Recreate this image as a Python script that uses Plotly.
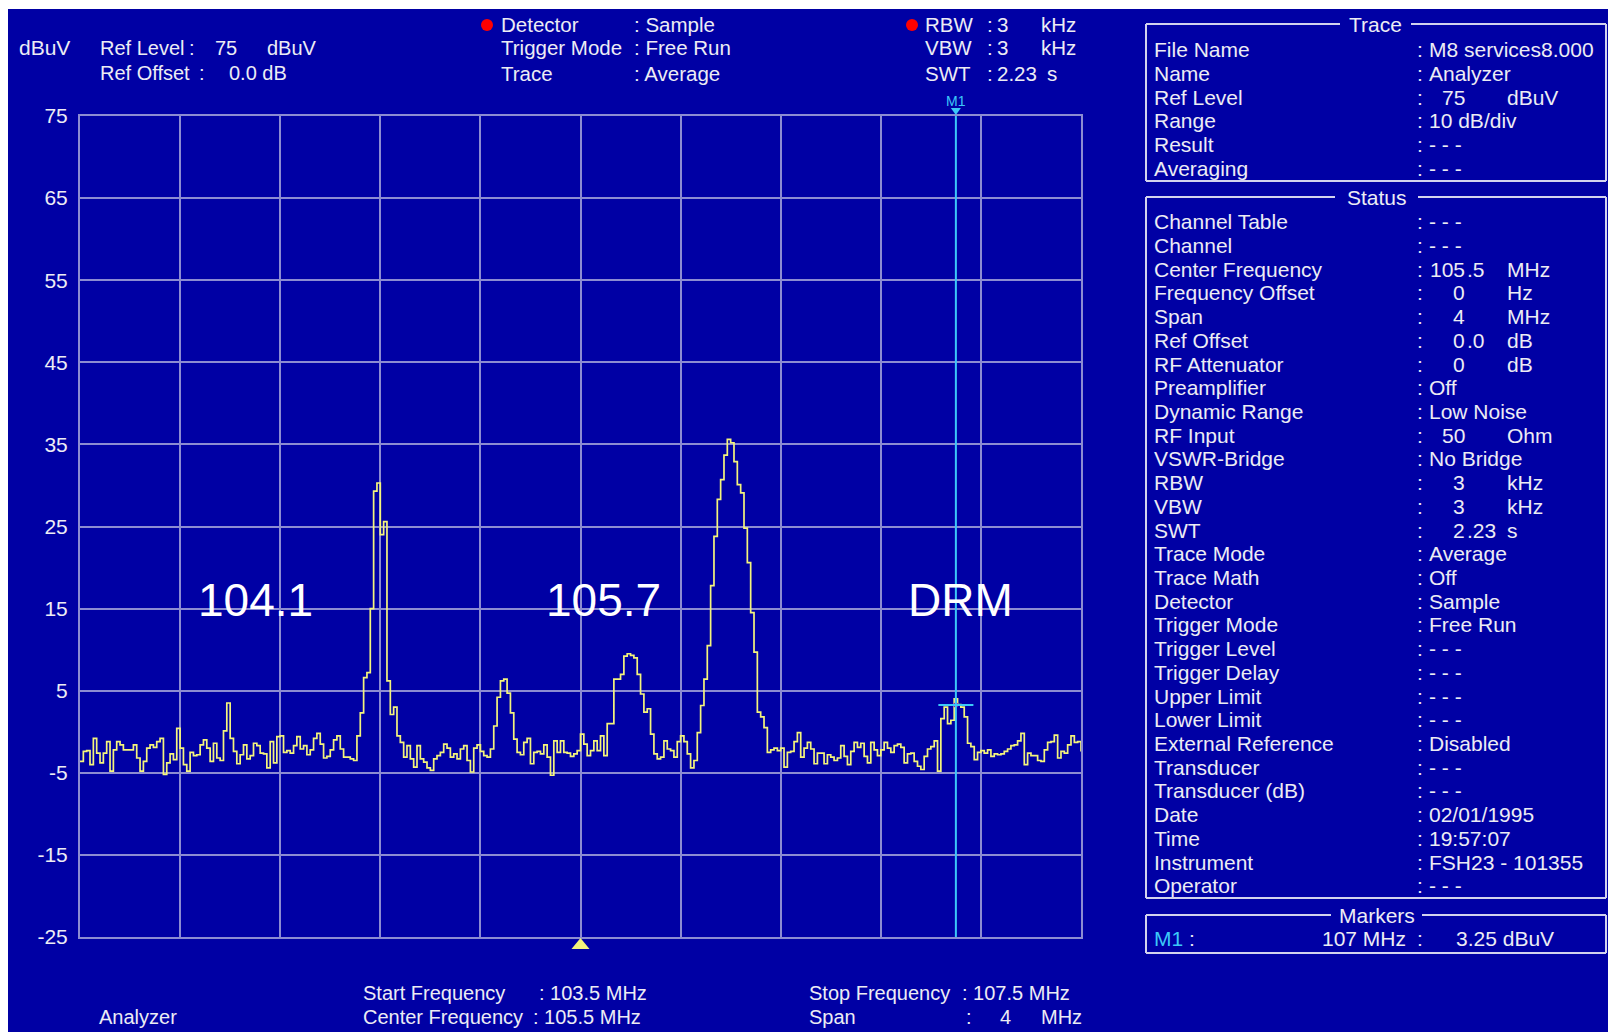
import numpy as np
import plotly.graph_objects as go

# ---------------- sweep settings ----------------
START_FREQ = 103.5   # MHz
STOP_FREQ = 107.5    # MHz
CENTER_FREQ = 105.5  # MHz
REF_LEVEL = 75       # dBuV
BOTTOM_LEVEL = -25   # dBuV (10 dB/div, 10 divisions)

# Averaged trace, 301 sweep points, dBuV
levels = [
    -3.6, -2.4, -2.3, -4.0, -0.8, -2.6, -3.8, -2.6, -1.2, -4.8,
    -2.2, -1.2, -1.6, -2.2, -2.2, -2.2, -1.6, -3.2, -4.8, -3.6,
    -2.0, -1.6, -1.9, -1.2, -0.8, -5.2, -3.8, -2.7, -3.4, 0.4,
    -2.0, -4.0, -4.8, -2.5, -2.9, -2.8, -1.6, -1.0, -2.0, -3.6,
    -1.4, -3.2, -3.5, 0.1, 3.5, -0.8, -2.4, -3.9, -2.8, -1.6,
    -3.3, -2.9, -1.4, -1.7, -2.6, -2.7, -4.4, -1.2, -3.8, -0.6,
    -0.5, -2.5, -2.3, -2.6, -1.7, -0.6, -2.1, -1.7, -2.8, -2.2,
    -0.8, -0.2, -1.5, -3.2, -3.0, -2.2, -1.0, -0.5, -2.1, -3.1,
    -3.1, -3.3, -3.5, -0.5, 2.3, 6.6, 7.2, 15.0, 29.3, 30.3,
    24.0, 25.6, 6.2, 2.1, 3.0, -0.5, -1.3, -3.1, -1.7, -3.3,
    -4.3, -1.7, -3.3, -3.7, -4.4, -4.7, -3.3, -2.9, -2.5, -1.5,
    -2.0, -3.1, -2.7, -3.3, -2.1, -1.7, -3.5, -4.9, -2.0, -1.6,
    -2.4, -2.9, -3.1, -2.1, 0.7, 4.2, 6.2, 6.4, 4.7, 2.3,
    -0.9, -2.5, -2.8, -1.3, -0.8, -3.9, -2.5, -2.4, -2.7, -1.6,
    -3.1, -5.3, -1.1, -2.5, -1.1, -2.5, -2.6, -3.0, -2.7, -2.3,
    -0.3, -1.5, -2.9, -2.3, -1.1, -2.3, -0.5, -2.9, 1.0, 1.0,
    6.4, 6.4, 7.0, 9.2, 9.5, 9.3, 9.0, 7.0, 4.6, 2.4,
    2.8, -0.3, -2.7, -3.3, -3.1, -1.1, -2.1, -2.3, -3.1, -1.2,
    -0.5, -1.2, -2.7, -4.4, -3.5, -0.1, 3.2, 6.4, 10.5, 17.8,
    23.8, 28.3, 30.7, 33.7, 35.6, 35.2, 32.9, 30.1, 29.1, 24.8,
    20.6, 14.5, 9.7, 2.4, 1.8, 0.5, -2.5, -2.2, -2.0, -2.3,
    -2.0, -4.3, -2.5, -2.4, -1.2, -0.1, -3.1, -2.0, -1.3, -2.1,
    -3.9, -2.6, -2.6, -3.9, -2.8, -3.1, -3.5, -3.2, -1.7, -3.0,
    -4.0, -2.4, -1.3, -1.9, -1.4, -3.0, -3.8, -1.3, -2.2, -2.9,
    -2.2, -1.3, -2.0, -2.5, -1.7, -1.5, -1.9, -3.8, -2.7, -2.6,
    -3.6, -4.2, -4.6, -3.0, -2.1, -1.8, -1.1, -4.8, 1.6, 3.0,
    1.0, 1.4, 4.0, 3.3, 3.0, 1.8, -1.4, -1.8, -3.4, -2.5,
    -2.3, -2.6, -2.2, -3.0, -2.7, -2.8, -2.7, -2.4, -2.1, -1.7,
    -1.6, -1.1, -0.2, -4.0, -2.6, -2.9, -2.9, -3.5, -3.6, -2.2,
    -1.3, -1.2, -0.4, -3.2, -2.4, -2.6, -1.6, -0.5, -1.3, -1.2,
    -2.4,
]
freqs = np.linspace(START_FREQ, STOP_FREQ, len(levels))

y_tick_values = [75, 65, 55, 45, 35, 25, 15, 5, -5, -15, -25]
y_tick_labels = [str(v) for v in y_tick_values]

# Station labels written over the spectrum
peak_labels = ["104.1", "105.7", "DRM"]
peak_label_freqs = [104.20, 105.59, 107.02]
peak_label_levels = [16, 16, 16]

# Marker M1
marker_name = "M1"
marker_freq = 107.0
marker_level = 3.25

# Info panel contents: (label, value, unit)
trace_info = [
    ("File Name", "M8 services8.000", ""),
    ("Name", "Analyzer", ""),
    ("Ref Level", "75", "dBuV"),
    ("Range", "10 dB/div", ""),
    ("Result", "- - -", ""),
    ("Averaging", "- - -", ""),
]
status_info = [
    ("Channel Table", "- - -", ""),
    ("Channel", "- - -", ""),
    ("Center Frequency", "105.5", "MHz"),
    ("Frequency Offset", "0", "Hz"),
    ("Span", "4", "MHz"),
    ("Ref Offset", "0.0", "dB"),
    ("RF Attenuator", "0", "dB"),
    ("Preamplifier", "Off", ""),
    ("Dynamic Range", "Low Noise", ""),
    ("RF Input", "50", "Ohm"),
    ("VSWR-Bridge", "No Bridge", ""),
    ("RBW", "3", "kHz"),
    ("VBW", "3", "kHz"),
    ("SWT", "2.23", "s"),
    ("Trace Mode", "Average", ""),
    ("Trace Math", "Off", ""),
    ("Detector", "Sample", ""),
    ("Trigger Mode", "Free Run", ""),
    ("Trigger Level", "- - -", ""),
    ("Trigger Delay", "- - -", ""),
    ("Upper Limit", "- - -", ""),
    ("Lower Limit", "- - -", ""),
    ("External Reference", "Disabled", ""),
    ("Transducer", "- - -", ""),
    ("Transducer (dB)", "- - -", ""),
    ("Date", "02/01/1995", ""),
    ("Time", "19:57:07", ""),
    ("Instrument", "FSH23 - 101355", ""),
    ("Operator", "- - -", ""),
]

# ---------------- styling ----------------
W, H = 1608, 1032
PL, PR, PT, PB = 80, 1081, 116, 937   # plot area in page pixels
BLUE = "#0000A4"
GRID = "rgb(140,140,210)"
TEXT = "#ECECF4"
YELLOW = "#F4F47C"
CYAN = "#3CC8F8"
BOX = "rgb(210,210,238)"
FONT = "Liberation Sans, Arial, sans-serif"


def xp(x):
    return (x - PL) / (PR - PL)


def yp(y):
    return (PB - y) / (PB - PT)


def mhz_per_px():
    return (STOP_FREQ - START_FREQ) / (PR - PL)


annotations = []
shapes = []


def text(x, y, s, anchor="left", color=TEXT, size=21):
    annotations.append(dict(
        x=xp(x), y=yp(y), xref="paper", yref="paper", text=s,
        showarrow=False, xanchor=anchor, yanchor="middle",
        font=dict(family=FONT, size=size, color=color),
    ))


def line(x0, y0, x1, y1, color=BOX, width=2):
    shapes.append(dict(type="line", xref="paper", yref="paper",
                       x0=xp(x0), y0=yp(y0), x1=xp(x1), y1=yp(y1),
                       line=dict(color=color, width=width)))


def dot(cx, cy, r, color):
    shapes.append(dict(type="circle", xref="paper", yref="paper",
                       x0=xp(cx - r), x1=xp(cx + r), y0=yp(cy + r), y1=yp(cy - r),
                       fillcolor=color, line=dict(width=0)))


def flag(freq, y_tip, y_base, half_px, color):
    """Small triangle anchored at a frequency, vertical extent in page pixels."""
    dx = half_px * mhz_per_px()
    path = (f"M {freq - dx},{yp(y_base)} L {freq + dx},{yp(y_base)} "
            f"L {freq},{yp(y_tip)} Z")
    shapes.append(dict(type="path", xref="x", yref="paper", path=path,
                       fillcolor=color, line=dict(width=0)))


# page background: white margin strip on top/left, blue screen
shapes.append(dict(type="rect", xref="paper", yref="paper", layer="below",
                   x0=xp(8), x1=xp(W), y0=yp(9), y1=yp(H),
                   fillcolor=BLUE, line=dict(width=0)))

# ---------------- header ----------------
text(17, 48, "dBuV")
text(98, 48, "Ref Level", size=20)
text(187, 48, ":", size=20)
text(213, 48, "75", size=20)
text(265, 48, "dBuV", size=20)
text(98, 73, "Ref Offset", size=20)
text(197, 73, ":", size=20)
text(227, 73, "0.0 dB", size=20)

dot(487, 25, 6, "#FF0000")
text(499, 25, "Detector", size=20.5)
text(632, 25, ": Sample", size=20.5)
text(499, 48, "Trigger Mode", size=20.5)
text(632, 48, ": Free Run", size=20.5)
text(499, 73, "Trace", size=20.5)
text(632, 73, ": Average", size=20.5)

dot(912, 25, 6, "#FF0000")
for yy, lab, val, unit in [(25, "RBW", "3", "kHz"), (48, "VBW", "3", "kHz"),
                           (73, "SWT", "2.23", "s")]:
    text(923, yy, lab, size=20.5)
    text(985, yy, ":", size=20.5)
    text(995, yy, val, size=20.5)
    text(1039 if unit != "s" else 1045, yy, unit, size=20.5)

# ---------------- footer ----------------
text(97, 1017, "Analyzer", size=20)
text(361, 993, "Start Frequency", size=20)
text(537, 993, f": {START_FREQ} MHz", size=20)
text(361, 1017, "Center Frequency", size=20)
text(531, 1017, f": {CENTER_FREQ} MHz", size=20)
text(807, 993, "Stop Frequency", size=20)
text(960, 993, f": {STOP_FREQ} MHz", size=20)
text(807, 1017, "Span", size=20)
text(964, 1017, ":", size=20)
text(998, 1017, f"{STOP_FREQ - START_FREQ:g}", size=20)
text(1039, 1017, "MHz", size=20)

# ---------------- right panel ----------------
LAB_X, COLON_X, VAL_X, INT_X, UNIT_X = 1152, 1415, 1427, 1467, 1505
BOX_L, BOX_R = 1146, 1606


def is_number(s):
    try:
        float(s)
        return True
    except ValueError:
        return False


def panel_rows(rows, y0, step):
    for k, (lab, val, unit) in enumerate(rows):
        y = y0 + k * step
        text(LAB_X, y, lab)
        text(COLON_X, y, ":")
        if is_number(val):
            whole, _, frac = val.partition(".")
            text(INT_X, y, whole, anchor="right")
            if frac:
                text(INT_X - 2, y, "." + frac)
        else:
            text(VAL_X, y, val)
        if unit:
            text(UNIT_X, y, unit)


def titled_box(top, bottom, title, gap):
    line(BOX_L, top, gap[0], top)
    line(gap[1], top, BOX_R, top)
    line(BOX_L, top, BOX_L, bottom)
    line(BOX_R, top, BOX_R, bottom)
    line(BOX_L, bottom, BOX_R, bottom)
    text((gap[0] + gap[1]) / 2, top, title, anchor="center")


titled_box(24, 181, "Trace", (1340, 1411))
panel_rows(trace_info, 49.5, 23.76)
titled_box(197, 898, "Status", (1335, 1418))
panel_rows(status_info, 221.7, 23.72)
titled_box(915, 953, "Markers", (1331, 1422))
text(LAB_X, 938, marker_name, color=CYAN)
text(1187, 938, ":")
text(1408, 938, f"{marker_freq:g} MHz", anchor="right")
text(COLON_X, 938, ":")
text(1454, 938, f"{marker_level} dBuV")

# ---------------- spectrum ----------------
fig = go.Figure()

fig.add_trace(go.Scatter(
    x=freqs, y=levels, mode="lines",
    line=dict(color=YELLOW, width=1.7, shape="hv"),
    hoverinfo="skip", showlegend=False,
))

# marker line, reading bar and position
shapes.append(dict(type="line", xref="x", yref="paper", x0=marker_freq, x1=marker_freq,
                   y0=0, y1=1, line=dict(color=CYAN, width=2)))
shapes.append(dict(type="line", xref="x", yref="y", x0=marker_freq - 0.07,
                   x1=marker_freq + 0.07, y0=marker_level, y1=marker_level,
                   line=dict(color=CYAN, width=2)))
fig.add_trace(go.Scatter(
    x=[marker_freq], y=[marker_level], mode="markers",
    marker=dict(color="#9010B0", size=5), hoverinfo="skip", showlegend=False,
))
# marker flag above the grid, center frequency flag below it
flag(marker_freq, PT - 1, PT - 8, 5, CYAN)
flag(CENTER_FREQ, PB + 1, PB + 12, 9, YELLOW)
annotations.append(dict(x=marker_freq, y=yp(101), xref="x", yref="paper",
                        text=marker_name, showarrow=False, xanchor="center",
                        yanchor="middle", font=dict(family=FONT, size=14, color=CYAN)))

for lab, fx, lv in zip(peak_labels, peak_label_freqs, peak_label_levels):
    annotations.append(dict(x=fx, y=lv, xref="x", yref="y", text=lab,
                            showarrow=False, xanchor="center", yanchor="middle",
                            font=dict(family=FONT, size=46, color="#FFFFFF")))

fig.update_layout(
    width=W, height=H, autosize=False,
    margin=dict(l=PL, r=W - PR, t=PT, b=H - PB, pad=0),
    paper_bgcolor="#FFFFFF", plot_bgcolor=BLUE,
    showlegend=False,
    shapes=shapes, annotations=annotations,
    xaxis=dict(range=[START_FREQ, STOP_FREQ], tick0=START_FREQ,
               dtick=(STOP_FREQ - START_FREQ) / 10, showticklabels=False,
               ticks="", showgrid=True, gridcolor=GRID, gridwidth=2,
               zeroline=False, showline=True, mirror=True,
               linecolor=GRID, linewidth=2, fixedrange=True),
    yaxis=dict(range=[BOTTOM_LEVEL, REF_LEVEL], tickmode="array",
               tickvals=y_tick_values, ticktext=y_tick_labels, ticks="",
               ticklabelstandoff=6,
               tickfont=dict(family=FONT, size=21, color=TEXT),
               showgrid=True, gridcolor=GRID, gridwidth=2, zeroline=False,
               showline=True, mirror=True, linecolor=GRID, linewidth=2,
               fixedrange=True),
)

fig.write_html("out.html")
